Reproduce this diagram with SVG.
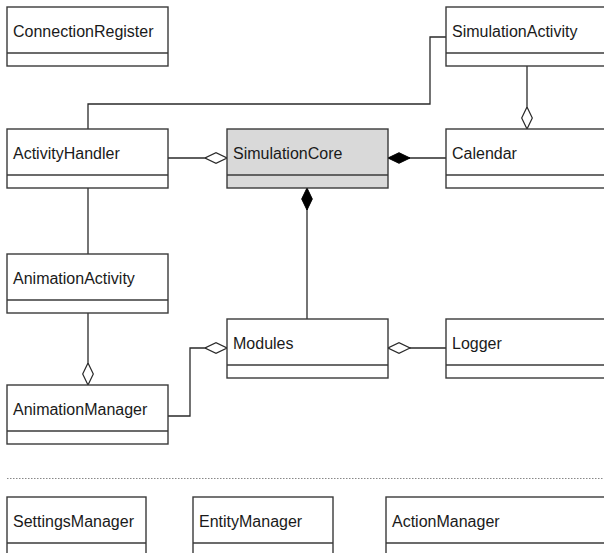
<svg xmlns="http://www.w3.org/2000/svg" width="604" height="553" viewBox="0 0 604 553">
<style>
.box{fill:#ffffff;stroke:#3a3a3a;stroke-width:1.4}
.core{fill:#d9d9d9}
.div{stroke:#3a3a3a;stroke-width:1.4;fill:none}
.lbl{font-family:"Liberation Sans",Arial,sans-serif;font-size:16px;fill:#1a1a1a}
.conn path{fill:none;stroke:#2a2a2a;stroke-width:1.3}
.sep{stroke:#888888;stroke-width:1;stroke-dasharray:1.5,1.5;fill:none}
</style>
<defs>
<marker id="agg" viewBox="0 0 23 12" refX="22.5" refY="6" markerWidth="23" markerHeight="12" markerUnits="userSpaceOnUse" orient="auto">
<path d="M0.5,6 L11.5,0.7 L22.5,6 L11.5,11.3 Z" fill="#ffffff" stroke="#2a2a2a" stroke-width="1.2"/>
</marker>
<marker id="comp" viewBox="0 0 23 12" refX="22.5" refY="6" markerWidth="23" markerHeight="12" markerUnits="userSpaceOnUse" orient="auto">
<path d="M0.5,6 L11.5,0.7 L22.5,6 L11.5,11.3 Z" fill="#000000" stroke="#000000" stroke-width="1"/>
</marker>
</defs>
<rect width="604" height="553" fill="#ffffff"/>

<g id="connectors" class="conn">
<path d="M88,129 V104 H430 V37 H446"/>
<path d="M88,188 V254"/>
<path d="M168,158 H227" marker-end="url(#agg)"/>
<path d="M446,158 H388" marker-end="url(#comp)"/>
<path d="M527,66 V129" marker-end="url(#agg)"/>
<path d="M88,313 V385" marker-end="url(#agg)"/>
<path d="M307,319 V188" marker-end="url(#comp)"/>
<path d="M168,416 H190 V348 H227" marker-end="url(#agg)"/>
<path d="M446,348 H388" marker-end="url(#agg)"/>
</g>

<g id="ConnectionRegister">
<rect class="box" x="7" y="7" width="161" height="59"/>
<path class="div" d="M7,53 H168"/>
<text class="lbl" x="13" y="37">ConnectionRegister</text>
</g>
<g id="SimulationActivity">
<rect class="box" x="446" y="7" width="170" height="59"/>
<path class="div" d="M446,53 H616"/>
<text class="lbl" x="452" y="37">SimulationActivity</text>
</g>
<g id="ActivityHandler">
<rect class="box" x="7" y="129" width="161" height="59"/>
<path class="div" d="M7,175 H168"/>
<text class="lbl" x="13" y="159">ActivityHandler</text>
</g>
<g id="SimulationCore">
<rect class="box core" x="227" y="129" width="161" height="59"/>
<path class="div" d="M227,175 H388"/>
<text class="lbl" x="233" y="159">SimulationCore</text>
</g>
<g id="Calendar">
<rect class="box" x="446" y="129" width="170" height="59"/>
<path class="div" d="M446,175 H616"/>
<text class="lbl" x="452" y="159">Calendar</text>
</g>
<g id="AnimationActivity">
<rect class="box" x="7" y="254" width="161" height="59"/>
<path class="div" d="M7,300 H168"/>
<text class="lbl" x="13" y="284">AnimationActivity</text>
</g>
<g id="Modules">
<rect class="box" x="227" y="319" width="161" height="59"/>
<path class="div" d="M227,365 H388"/>
<text class="lbl" x="233" y="349">Modules</text>
</g>
<g id="Logger">
<rect class="box" x="446" y="319" width="170" height="59"/>
<path class="div" d="M446,365 H616"/>
<text class="lbl" x="452" y="349">Logger</text>
</g>
<g id="AnimationManager">
<rect class="box" x="7" y="385" width="161" height="59"/>
<path class="div" d="M7,431 H168"/>
<text class="lbl" x="13" y="415">AnimationManager</text>
</g>

<path class="sep" d="M7,478.5 H604"/>

<g id="SettingsManager">
<rect class="box" x="7" y="497" width="139" height="70"/>
<path class="div" d="M7,543 H146"/>
<text class="lbl" x="13" y="527">SettingsManager</text>
</g>
<g id="EntityManager">
<rect class="box" x="193" y="497" width="140" height="70"/>
<path class="div" d="M193,543 H333"/>
<text class="lbl" x="199" y="527">EntityManager</text>
</g>
<g id="ActionManager">
<rect class="box" x="386" y="497" width="230" height="70"/>
<path class="div" d="M386,543 H616"/>
<text class="lbl" x="392" y="527">ActionManager</text>
</g>
</svg>
